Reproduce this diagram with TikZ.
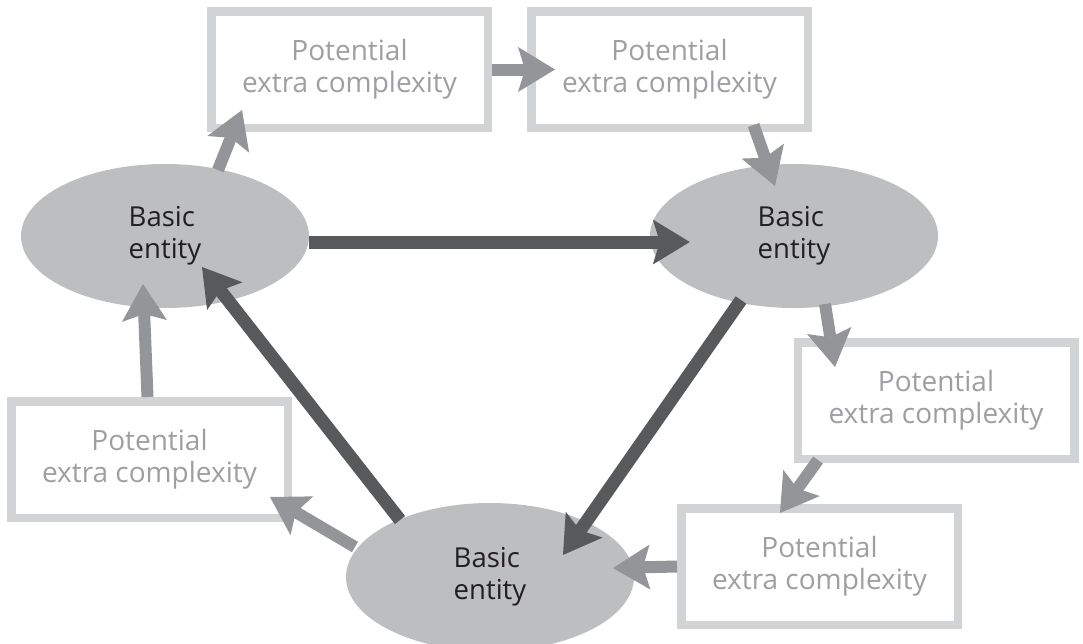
\documentclass[tikz,border=0pt]{standalone}
\usepackage{fontspec}
\setmainfont{Open Sans}
\usepackage{tikz}
\usetikzlibrary{arrows.meta,shapes.geometric,positioning,calc}
\usepackage{xcolor}
\definecolor{cxfill}{RGB}{188,190,192}
\definecolor{cxtext}{RGB}{35,31,32}
\definecolor{cxbox}{RGB}{209,211,212}
\definecolor{cxboxtext}{RGB}{157,159,162}
\definecolor{cxdark}{RGB}{88,89,91}
\definecolor{cxlight}{RGB}{147,149,152}
\tikzstyle{entity} = [ellipse, minimum width=288pt, minimum height=144pt, inner sep=0pt, fill=cxfill, text=cxtext, align=left, font=\fontsize{27.5pt}{32pt}\selectfont]
\tikzstyle{extra} = [rectangle, minimum width=276.5pt, minimum height=116.5pt, draw=cxbox, line width=8.5pt, fill=white, text=cxboxtext, align=center, font=\fontsize{28pt}{32pt}\selectfont]
\tikzstyle{arrow} = [line width=12pt, -{Stealth[length=37pt, width=45pt, inset=7pt, line width=0pt]}, color=cxlight]
\tikzstyle{mainarrow} = [arrow, line width=13pt, color=cxdark]

\begin{document}
\begin{tikzpicture}[x=1pt, y=-1pt, node distance=320pt]
\useasboundingbox (0,0) rectangle (1083,643);

\node (extraA) [extra] at (349.5,69.5) {Potential\\extra complexity};
\node (extraB) [extra, right of=extraA] {Potential\\extra complexity};
\node (extraC) [extra] at (936,400.5) {Potential\\extra complexity};
\node (extraD) [extra] at (819.5,566.5) {Potential\\extra complexity};
\node (extraE) [extra] at (149.5,459.5) {Potential\\extra complexity};

\node (basicL) [entity] at (165,236) {Basic\\entity};
\node (basicR) [entity] at (794,236) {Basic\\entity};
\node (basicB) [entity, minimum height=148pt] at (490,577) {Basic\\entity};

% main cycle
\draw[mainarrow] ($(basicL.east)+(0,6)$) -- ($(basicR.west)+(40,6)$);
\draw[mainarrow] ($(basicR)+(-53,64)$) -- ($(basicB)+(73,-22)$);
\draw[mainarrow] ($(basicB)+(-90,-57)$) -- ($(basicL)+(37,31)$);

% detours through the extra boxes
\draw[arrow] ($(basicL)+(53,-66)$) -- ($(extraA)+(-107.5,40.5)$);
\draw[arrow] (extraA.east) -- ($(extraB.west)+(28,0)$);
\draw[arrow] ($(extraB.south)+(84,-7)$) -- ($(basicR)+(-19,-50)$);
\draw[arrow] ($(basicR)+(31,68)$) -- ($(extraC)+(-101,-33.5)$);
\draw[arrow] ($(extraC)+(-118,59.5)$) -- ($(extraD)+(-39.5,-53.5)$);
\draw[arrow] (extraD.west) -- ($(basicB)+(123,-9)$);
\draw[arrow] ($(basicB)+(-135,-30)$) -- ($(extraE)+(120.5,37.5)$);
\draw[arrow] ($(extraE.north)+(-2,0)$) -- ($(basicL)+(-22,48)$);
\end{tikzpicture}
\end{document}
